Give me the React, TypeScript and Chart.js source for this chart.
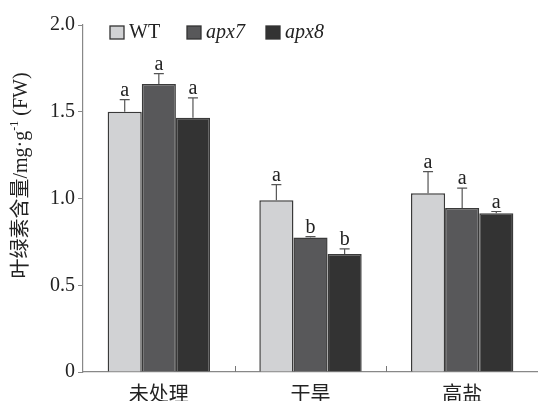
import React, { useEffect, useRef } from "react";
import { Chart, registerables } from "chart.js";

Chart.register(...registerables);

const categories = ["未处理", "干旱", "高盐"];
const seriesNames = ["WT", "apx7", "apx8"];
const wtValues = [1.5, 0.99, 1.03];
const wtErrors = [0.07, 0.09, 0.125];
const wtLetters = ["a", "a", "a"];
const apx7Values = [1.66, 0.775, 0.945];
const apx7Errors = [0.06, 0.005, 0.115];
const apx7Letters = ["a", "b", "a"];
const apx8Values = [1.465, 0.68, 0.915];
const apx8Errors = [0.115, 0.03, 0.01];
const apx8Letters = ["a", "b", "a"];
const yTicks = [0, 0.5, 1.0, 1.5, 2.0];

const colors = ["#d1d2d4", "#58585a", "#333333"];
const SERIF = "'Liberation Serif', 'Noto Sans CJK SC', serif";
const FS = 20;

const errorPlugin = {
  id: "errorBarsLetters",
  afterDatasetsDraw(chart: any) {
    const ctx = chart.ctx;
    const yScale = chart.scales.y;
    const errs = [wtErrors, apx7Errors, apx8Errors];
    const letters = [wtLetters, apx7Letters, apx8Letters];
    const vals = [wtValues, apx7Values, apx8Values];
    ctx.save();
    chart.data.datasets.forEach((ds: any, i: number) => {
      const meta = chart.getDatasetMeta(i);
      meta.data.forEach((el: any, j: number) => {
        const x = el.x;
        const yTop = el.y;
        const yErr = yScale.getPixelForValue(vals[i][j] + errs[i][j]);
        ctx.strokeStyle = "#555";
        ctx.lineWidth = 1.2;
        ctx.beginPath();
        ctx.moveTo(x, yTop);
        ctx.lineTo(x, yErr);
        ctx.moveTo(x - 5, yErr);
        ctx.lineTo(x + 5, yErr);
        ctx.stroke();
        ctx.fillStyle = "#222";
        ctx.font = `${FS}px ${SERIF}`;
        ctx.textAlign = "center";
        ctx.textBaseline = "alphabetic";
        ctx.fillText(letters[i][j], x, yErr - 4);
      });
    });
    // x axis interior ticks at category boundaries
    const xScale = chart.scales.x;
    const bottom = chart.chartArea.bottom;
    ctx.strokeStyle = "#777";
    ctx.lineWidth = 1;
    for (let k = 1; k < categories.length; k++) {
      const bx = (xScale.getPixelForValue(k - 1) + xScale.getPixelForValue(k)) / 2;
      ctx.beginPath();
      ctx.moveTo(Math.round(bx) + 0.5, bottom);
      ctx.lineTo(Math.round(bx) + 0.5, bottom - 6);
      ctx.stroke();
    }
    // legend
    const left = chart.chartArea.left;
    const top = chart.chartArea.top;
    const legendX = [left + 27, left + 104, left + 183];
    ctx.textAlign = "left";
    ctx.textBaseline = "middle";
    seriesNames.forEach((name, i) => {
      const lx = legendX[i];
      const ly = top + 1;
      ctx.fillStyle = colors[i];
      ctx.fillRect(lx, ly, 14, 13);
      ctx.strokeStyle = "#333";
      ctx.lineWidth = 1.3;
      ctx.strokeRect(lx, ly, 14, 13);
      ctx.fillStyle = "#222";
      ctx.font = i === 0 ? `${FS}px ${SERIF}` : `italic ${FS}px ${SERIF}`;
      ctx.fillText(name, lx + 19, ly + 7);
    });
    // y axis title
    ctx.save();
    ctx.translate(22, (chart.chartArea.top + chart.chartArea.bottom) / 2 - 23);
    ctx.rotate(-Math.PI / 2);
    ctx.fillStyle = "#222";
    ctx.textBaseline = "middle";
    const p1 = "叶绿素含量/mg·g";
    const sup = "-1";
    const p2 = " (FW)";
    ctx.font = `${FS}px ${SERIF}`;
    const w1 = ctx.measureText(p1).width;
    const w3 = ctx.measureText(p2).width;
    ctx.font = `12px ${SERIF}`;
    const w2 = ctx.measureText(sup).width;
    const total = w1 + w2 + w3;
    let cx = -total / 2;
    ctx.textAlign = "left";
    ctx.font = `${FS}px ${SERIF}`;
    ctx.fillText(p1, cx, 0);
    cx += w1;
    ctx.font = `12px ${SERIF}`;
    ctx.fillText(sup, cx, -7);
    cx += w2;
    ctx.font = `${FS}px ${SERIF}`;
    ctx.fillText(p2, cx, 0);
    ctx.restore();
    ctx.restore();
  },
};

export default function App() {
  const ref = useRef<HTMLCanvasElement>(null);
  useEffect(() => {
    if (!ref.current) return;
    const chart = new Chart(ref.current, {
      type: "bar",
      data: {
        labels: categories,
        datasets: [
          { label: seriesNames[0], data: wtValues, backgroundColor: colors[0] },
          { label: seriesNames[1], data: apx7Values, backgroundColor: colors[1] },
          { label: seriesNames[2], data: apx8Values, backgroundColor: colors[2] },
        ].map((d) => ({
          ...d,
          borderColor: "#3a3a3a",
          borderWidth: 1.5,
          borderSkipped: "start" as const,
          categoryPercentage: 0.675,
          barPercentage: 1.0,
        })),
      },
      options: {
        animation: false,
        responsive: true,
        maintainAspectRatio: false,
        layout: { padding: { top: 25, right: 0, left: 0, bottom: 0 } },
        plugins: { legend: { display: false }, tooltip: { enabled: false } },
        scales: {
          x: {
            grid: { display: false },
            border: { display: true, color: "#888", width: 1.2 },
            ticks: {
              color: "#222",
              font: { family: SERIF, size: FS },
              padding: 4,
            },
            afterFit(scale: any) {
              scale.height = 29;
            },
          },
          y: {
            min: 0,
            max: 2,
            afterBuildTicks(scale: any) {
              scale.ticks = yTicks.map((v) => ({ value: v }));
            },
            grid: {
              drawOnChartArea: false,
              drawTicks: true,
              tickLength: 5,
              color: "#888",
            },
            border: { display: true, color: "#888", width: 1.2 },
            ticks: {
              color: "#222",
              font: { family: SERIF, size: FS },
              padding: 3,
              callback: (v: any) => (v === 0 ? "0" : Number(v).toFixed(1)),
            },
            afterFit(scale: any) {
              scale.width = 83;
            },
          },
        },
      },
      plugins: [errorPlugin],
    });
    return () => chart.destroy();
  }, []);
  return (
    <div style={{ position: "absolute", left: 0, top: 0, width: 538, height: 401, background: "#fff" }}>
      <canvas ref={ref} />
    </div>
  );
}
